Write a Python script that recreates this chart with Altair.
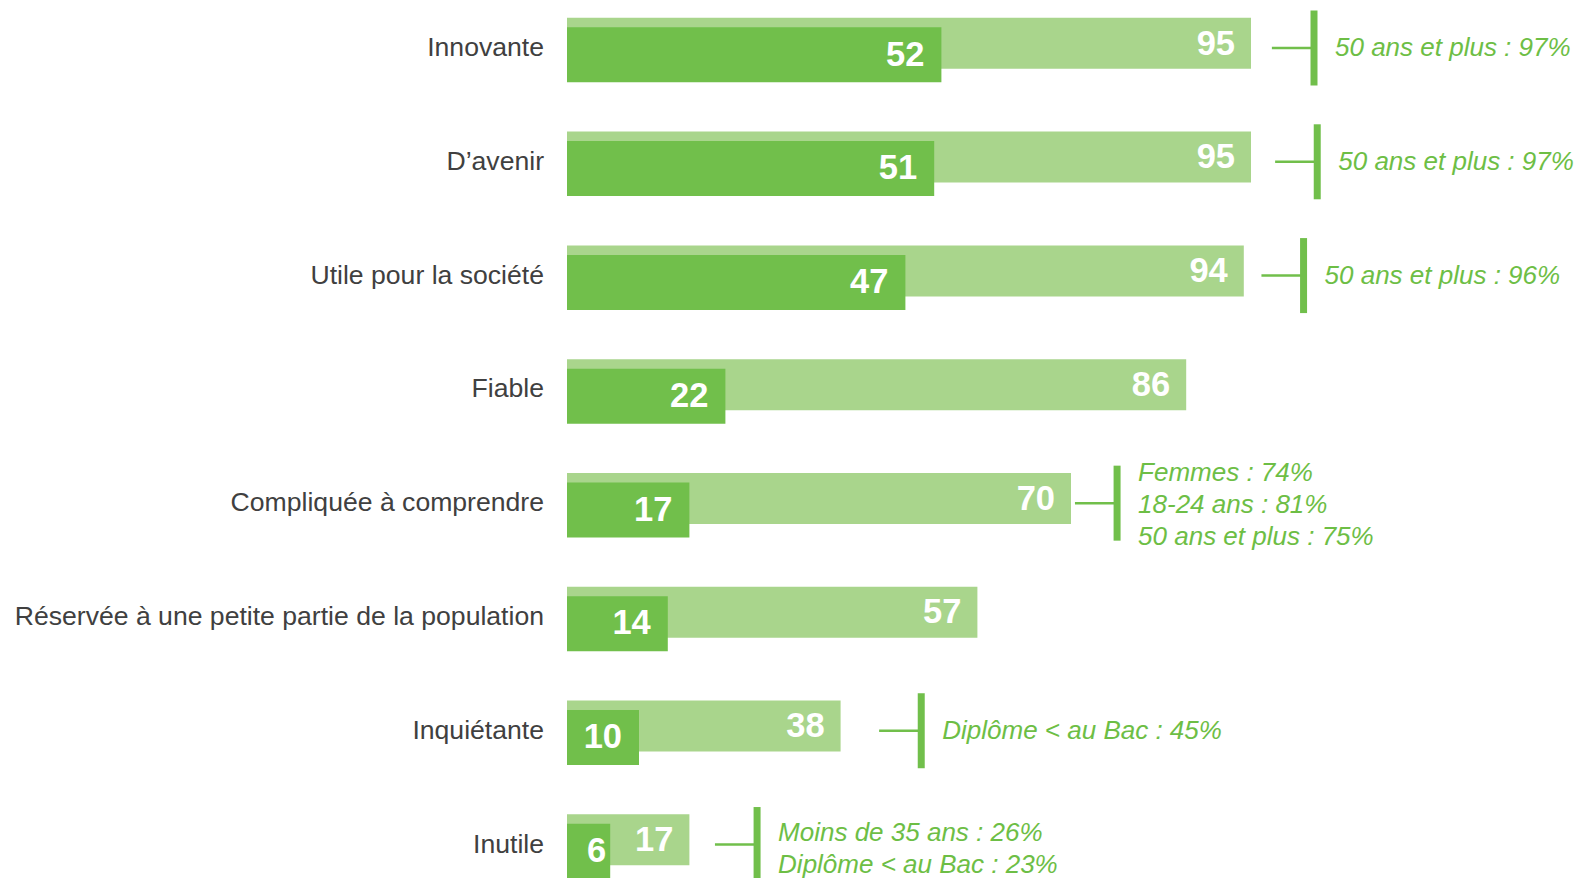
import altair as alt
import pandas as pd

categories = [
    "Innovante",
    "D’avenir",
    "Utile pour la société",
    "Fiable",
    "Compliquée à comprendre",
    "Réservée à une petite partie de la population",
    "Inquiétante",
    "Inutile",
]
total = [95, 95, 94, 86, 70, 57, 38, 17]
strong = [52, 51, 47, 22, 17, 14, 10, 6]

annot_cats = [
    "Innovante",
    "D’avenir",
    "Utile pour la société",
    "Compliquée à comprendre",
    "Inquiétante",
    "Inutile",
]
annot_texts = [
    "50 ans et plus : 97%",
    "50 ans et plus : 97%",
    "50 ans et plus : 96%",
    "Femmes : 74%\n18-24 ans : 81%\n50 ans et plus : 75%",
    "Diplôme < au Bac : 45%",
    "Moins de 35 ans : 26%\nDiplôme < au Bac : 23%",
]

# layout constants for the annotation brackets (units beyond the total bar)
bracket_gap = [8.75, 9.2, 8.3, 6.4, 11.2, 9.4]
connector_len = 5.85

DARK = "#71BF4B"
LIGHT = "#A9D58C"
TEXT_GREEN = "#6DBE45"
LABEL = "#404040"
FONT = "Liberation Sans"

W = 1008
H = 870
XMAX = W / 7.2

df = pd.DataFrame({"cat": categories, "total": total, "strong": strong})
tot_map = dict(zip(categories, total))
ann = pd.DataFrame({"cat": annot_cats, "text": annot_texts, "gap": bracket_gap})
ann["line_x"] = ann["cat"].map(tot_map) + ann["gap"]
ann["conn_x"] = ann["line_x"] - connector_len
ann["nlines"] = ann["text"].str.count("\n") + 1

step = 113.79
y0 = 40.0 - step / 2
yscale = alt.Scale(range=[y0, y0 + 8 * step], paddingInner=0, paddingOuter=0)
xscale = alt.Scale(domain=[0, XMAX], nice=False, zero=True)

Y = alt.Y(
    "cat:N",
    sort=categories,
    scale=yscale,
    title=None,
    axis=alt.Axis(
        domain=False,
        ticks=False,
        grid=False,
        labelPadding=23.5,
        labelFontSize=26.6,
        labelFont=FONT,
        labelColor=LABEL,
        labelLimit=700,
    ),
)

base = alt.Chart(df)

light_bar = base.mark_bar(size=51, yOffset=-4.7, color=LIGHT).encode(
    x=alt.X("total:Q", scale=xscale, axis=None), y=Y
)
dark_bar = base.mark_bar(size=55, yOffset=6.8, color=DARK).encode(
    x=alt.X("strong:Q", scale=xscale, axis=None), y=Y
)
light_txt = base.mark_text(
    align="right", baseline="middle", dx=-16, dy=-3.5, fontSize=34.5,
    fontWeight="bold", font=FONT, color="white"
).encode(x=alt.X("total:Q", scale=xscale, axis=None), y=Y, text="total:Q")


def dark_labels(cond, dx):
    return base.transform_filter(cond).mark_text(
        align="right", baseline="middle", dx=dx, dy=7.5, fontSize=34.5,
        fontWeight="bold", font=FONT, color="white"
    ).encode(x=alt.X("strong:Q", scale=xscale, axis=None), y=Y, text="strong:Q")


dark_txt = dark_labels(alt.datum.strong >= 10, -17)
dark_txt_small = dark_labels(alt.datum.strong < 10, -4)

a = alt.Chart(ann)
connector = a.mark_rule(color=DARK, strokeWidth=2.5).encode(
    x=alt.X("conn_x:Q", scale=xscale, axis=None), x2="line_x:Q", y=Y
)
bracket = a.mark_tick(color=DARK, thickness=7, size=75, opacity=1).encode(
    x=alt.X("line_x:Q", scale=xscale, axis=None), y=Y
)


def ann_layer(n, dy):
    return a.transform_filter(alt.datum.nlines == n).mark_text(
        align="left", baseline="middle", dx=21, dy=dy, fontSize=26,
        fontStyle="italic", font=FONT, color=TEXT_GREEN, lineBreak="\n",
        lineHeight=31.8,
    ).encode(x=alt.X("line_x:Q", scale=xscale, axis=None), y=Y, text="text:N")


ann1 = ann_layer(1, 0)
ann2 = ann_layer(2, -11.5)
ann3 = ann_layer(3, -30)

chart = (
    alt.layer(light_bar, dark_bar, light_txt, dark_txt, dark_txt_small,
              connector, bracket, ann1, ann2, ann3)
    .properties(
        width=W,
        height=H,
        padding={"left": 559, "top": 0, "right": 0, "bottom": 0},
        autosize=alt.AutoSizeParams(type="none"),
        background="white",
    )
    .configure_view(stroke="transparent", strokeWidth=0)
)

chart.save("out.html", embed_options={"renderer": "svg", "actions": False})
